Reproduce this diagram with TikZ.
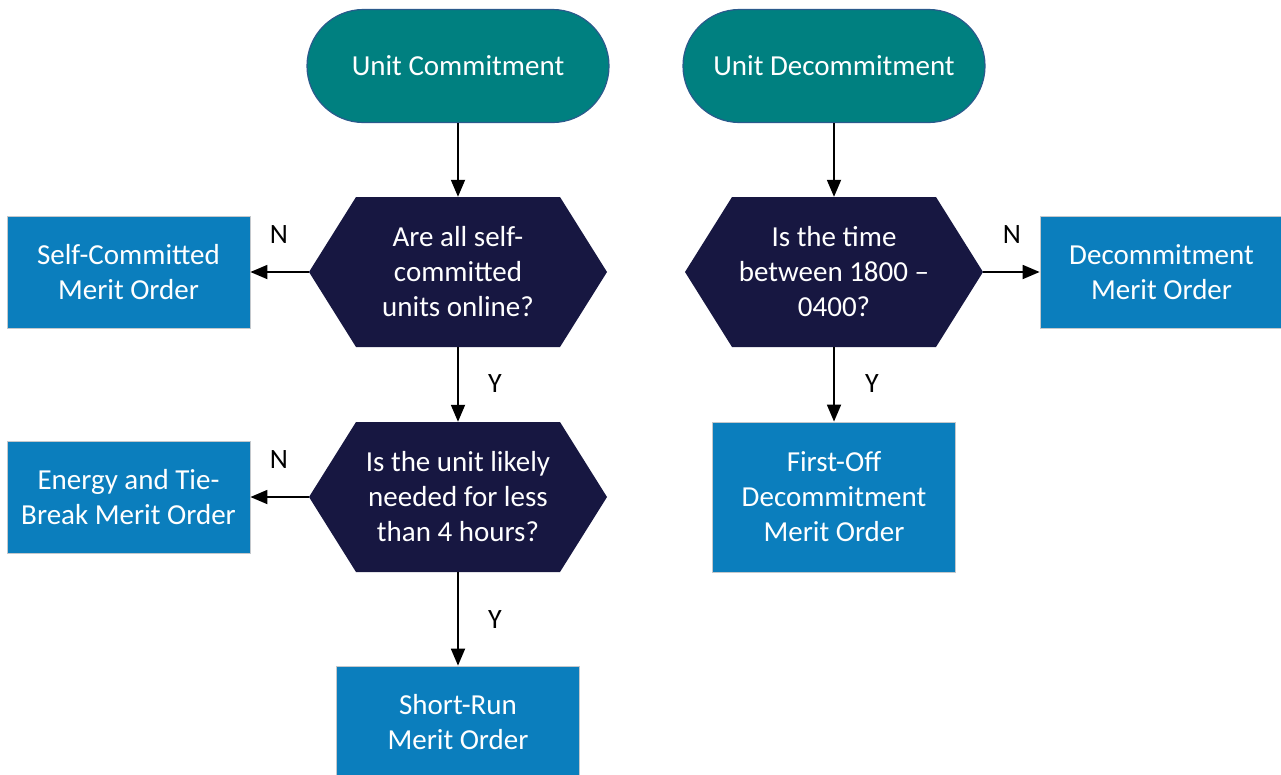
\documentclass[tikz,border=0pt]{standalone}
\usepackage{fontspec}
\setmainfont{Carlito}
\usetikzlibrary{shapes.misc,arrows.meta,calc}

\definecolor{termfill}{HTML}{008080}
\definecolor{termline}{HTML}{2A5A8C}
\definecolor{decfill}{HTML}{171741}
\definecolor{boxfill}{HTML}{0B7EBD}
\definecolor{boxline}{HTML}{C4C8CC}

\tikzset{
  every node/.style={font=\fontsize{29}{35}\selectfont},
  terminal/.style={rounded rectangle, fill=termfill, draw=termline, line width=1.2pt,
    minimum width=302pt, minimum height=113pt, text=white, inner sep=0pt},
  decision/.style={rectangle, minimum width=298pt, minimum height=150pt, inner sep=0pt,
    text=white, align=center,
    path picture={
      \fill[decfill] (path picture bounding box.west)
        -- ($(path picture bounding box.north west)+(47pt,0pt)$)
        -- ($(path picture bounding box.north east)+(-47pt,0pt)$)
        -- (path picture bounding box.east)
        -- ($(path picture bounding box.south east)+(-47pt,0pt)$)
        -- ($(path picture bounding box.south west)+(47pt,0pt)$)
        -- cycle;
    }},
  outcome/.style={rectangle, fill=boxfill, draw=boxline, line width=0.8pt,
    minimum width=243pt, minimum height=112pt, inner sep=0pt, text=white, align=center},
  flow/.style={line width=1.8pt, -{Triangle[length=17pt,width=14pt]}},
  answer/.style={font=\fontsize{28}{32}\selectfont, text=black}
}

\begin{document}
\begin{tikzpicture}[x=1pt, y=-1pt]
  \useasboundingbox (0,0) rectangle (1281,774);
  \clip (0,0) rectangle (1281,774);

  % start terminals
  \node[terminal] (uc) at (458,66) {Unit Commitment};
  \node[terminal] (ud) at (834,66) {Unit Decommitment};

  % decisions
  \node[decision] (q1) at (458,272) {Are all self-\\committed\\units online?};
  \node[decision] (q2) at (458,497) {Is the unit likely\\needed for less\\than 4 hours?};
  \node[decision] (q3) at (834,272) {Is the time\\between 1800 --\\0400?};

  % merit orders
  \node[outcome] (selfc) at (128.5,272) {Self-Committed\\Merit Order};
  \node[outcome] (energy) at (128.5,497) {Energy and Tie-\\Break Merit Order};
  \node[outcome] (short) at (458,722) {Short-Run\\Merit Order};
  \node[outcome] (decom) at (1161.5,272) {Decommitment\\Merit Order};
  \node[outcome, minimum height=150pt] (first) at (834,497) {First-Off\\Decommitment\\Merit Order};

  % connectors
  \draw[flow] (uc.south) -- (q1.north);
  \draw[flow] (q1.west) -- (selfc.east);
  \draw[flow] (q1.south) -- (q2.north);
  \draw[flow] (q2.west) -- (energy.east);
  \draw[flow] (q2.south) -- (short.north);
  \draw[flow] (ud.south) -- (q3.north);
  \draw[flow] (q3.east) -- (decom.west);
  \draw[flow] (q3.south) -- (first.north);

  % branch labels
  \node[answer] (n1) at (279,235) {N};
  \node[answer] (y1) at (495,384) {Y};
  \node[answer] (n2) at (279,460) {N};
  \node[answer] (y2) at (495,620) {Y};
  \node[answer] (n3) at (1012,235) {N};
  \node[answer] (y3) at (872,384) {Y};
\end{tikzpicture}
\end{document}
